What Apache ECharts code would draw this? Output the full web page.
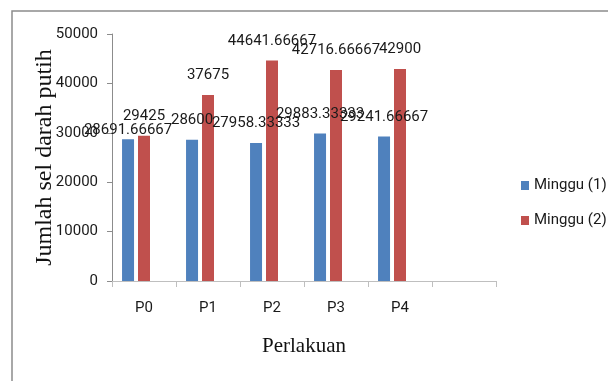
<!DOCTYPE html>
<html>
<head>
<meta charset="utf-8">
<script src="https://cdn.jsdelivr.net/npm/echarts@6/dist/echarts.min.js"></script>
<style>
  html, body { margin: 0; padding: 0; background: #ffffff; }
  #chart { width: 608px; height: 381px; }
</style>
</head>
<body>
<div id="chart"></div>
<script>
// Treatment groups (the trailing empty slot keeps the spare band on the axis)
const categories = ['P0', 'P1', 'P2', 'P3', 'P4', ''];
const seriesNames = ['Minggu (1)', 'Minggu (2)'];
// White blood cell counts per treatment
const minggu1 = [28691.66667, 28600, 27958.33333, 29883.33333, 29241.66667];
const minggu2 = [29425, 37675, 44641.66667, 42716.66667, 42900];
const yTicks = [0, 10000, 20000, 30000, 40000, 50000];

const numFont = "Roboto, 'Liberation Sans', sans-serif";
const serifFont = "'Liberation Serif', 'DejaVu Serif', serif";

function labelled(values, firstDistance) {
  return values.map(function (v, i) {
    const item = { value: v };
    if (i === 0 && firstDistance !== undefined) {
      item.label = { distance: firstDistance };
    }
    return item;
  });
}

const labelStyle = {
  show: true,
  position: 'top',
  distance: 12,
  fontFamily: numFont,
  fontSize: 15,
  color: '#1a1a1a',
  formatter: function (p) { return String(p.value); }
};

const chart = echarts.init(document.getElementById('chart'), null, { renderer: 'canvas' });
chart.setOption({
  animation: false,
  backgroundColor: '#ffffff',
  graphic: [{
    type: 'rect',
    shape: { x: 12, y: 11, width: 700, height: 500 },
    style: { fill: 'none', stroke: '#8c8c8c', lineWidth: 1.5 },
    silent: true
  }],
  grid: { left: 112, right: 112, top: 34, bottom: 100 },
  legend: {
    data: seriesNames,
    orient: 'vertical',
    left: 516,
    top: 173,
    itemGap: 20,
    itemWidth: 8,
    itemHeight: 9,
    icon: 'rect',
    textStyle: { fontFamily: numFont, fontSize: 15, color: '#1a1a1a' }
  },
  xAxis: {
    type: 'category',
    data: categories,
    name: 'Perlakuan',
    nameLocation: 'middle',
    nameGap: 55,
    nameMoveOverlap: false,
    nameTextStyle: { fontFamily: serifFont, fontSize: 21, color: '#111' },
    axisLine: { lineStyle: { color: '#bfbfbf', width: 1 } },
    axisTick: { show: true, length: 6, interval: 0, lineStyle: { color: '#bfbfbf' } },
    axisLabel: { fontFamily: numFont, fontSize: 15, color: '#1a1a1a', margin: 20, interval: 0 }
  },
  yAxis: {
    type: 'value',
    min: yTicks[0],
    max: yTicks[yTicks.length - 1],
    interval: yTicks[1] - yTicks[0],
    name: 'Jumlah sel darah putih',
    nameLocation: 'middle',
    nameGap: 55,
    nameMoveOverlap: false,
    nameTextStyle: { fontFamily: serifFont, fontSize: 24, color: '#111' },
    axisLine: { show: true, lineStyle: { color: '#8c8c8c', width: 1 } },
    axisTick: { show: true, length: 5, lineStyle: { color: '#8c8c8c' } },
    splitLine: { show: false },
    axisLabel: {
      fontFamily: numFont, fontSize: 15, color: '#1a1a1a', margin: 14,
      formatter: function (v) { return String(v); }
    }
  },
  series: [
    {
      name: seriesNames[0],
      type: 'bar',
      barWidth: 12,
      barGap: '33%',
      itemStyle: { color: '#4f81bd' },
      label: labelStyle,
      data: labelled(minggu1, 2)
    },
    {
      name: seriesNames[1],
      type: 'bar',
      barWidth: 12,
      barGap: '33%',
      itemStyle: { color: '#c0504d' },
      label: labelStyle,
      data: labelled(minggu2)
    },
    {
      // empty third slot in each group (no values)
      name: 'kosong',
      type: 'bar',
      barWidth: 12,
      barGap: '33%',
      silent: true,
      data: []
    }
  ]
});
</script>
</body>
</html>
